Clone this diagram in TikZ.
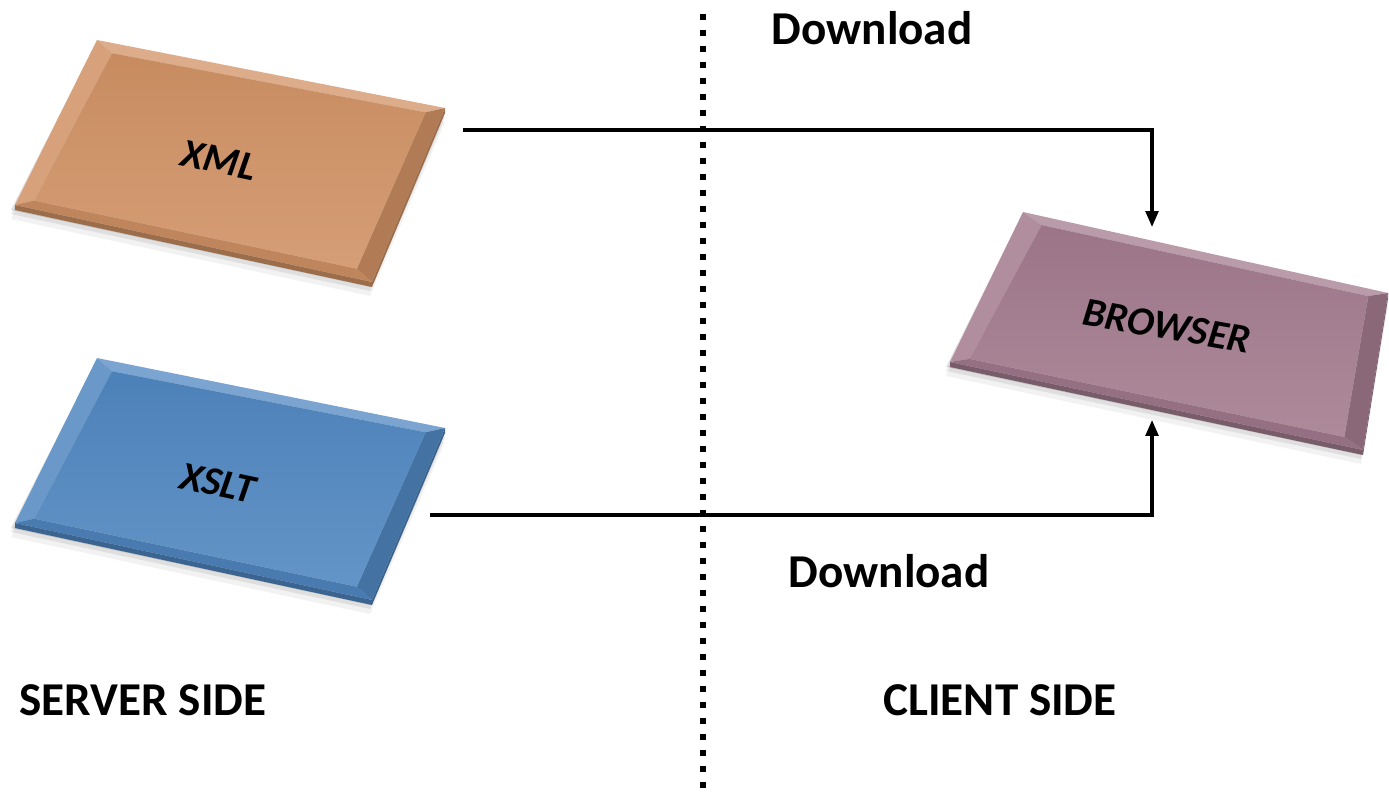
\documentclass[tikz,border=0pt]{standalone}
\usepackage{fontspec}
\setmainfont{Carlito}
\usepackage{xcolor}
\usetikzlibrary{arrows.meta,calc}
\definecolor{xmlface}{HTML}{D09164}
\definecolor{xsltface}{HTML}{4F86C0}
\definecolor{brwface}{HTML}{A27A8D}

% bevelled slab: #1 name, #2 colour, #3..#6 corners (top left, top right, bottom right, bottom left)
\newcommand{\slab}[6]{%
  \coordinate (#1-a) at #3; \coordinate (#1-b) at #4;
  \coordinate (#1-c) at #5; \coordinate (#1-d) at #6;
  \foreach \o/\op in {14/.05,9/.08,5/.12}
    \fill[black,opacity=\op] ($(#1-a)+(-2,\o)$) -- ($(#1-b)+(0,\o)$) -- ($(#1-c)+(-2,\o)$) -- ($(#1-d)+(-4,\o)$) -- cycle;
  \fill[#2!75!black] (#1-d) -- (#1-c) -- (#1-b) -- ($(#1-b)+(0,5)$) -- ($(#1-c)+(0,5)$) -- ($(#1-d)+(0,5)$) -- cycle;
  \coordinate (#1-ia) at ($(#1-a)!.055!(#1-c)$); \coordinate (#1-ic) at ($(#1-c)!.055!(#1-a)$);
  \coordinate (#1-ib) at ($(#1-b)!.045!(#1-d)$); \coordinate (#1-id) at ($(#1-d)!.045!(#1-b)$);
  \fill[#2!75!white] (#1-a) -- (#1-b) -- (#1-ib) -- (#1-ia) -- cycle;
  \fill[#2!85!white] (#1-a) -- (#1-ia) -- (#1-id) -- (#1-d) -- cycle;
  \fill[#2!85!black] (#1-b) -- (#1-c) -- (#1-ic) -- (#1-ib) -- cycle;
  \fill[#2!92!black] (#1-d) -- (#1-id) -- (#1-ic) -- (#1-c) -- cycle;
  \shade[top color=#2!96!black,bottom color=#2!88!white] (#1-ia) -- (#1-ib) -- (#1-ic) -- (#1-id) -- cycle;
}

\begin{document}
\begin{tikzpicture}[x=0.01cm,y=-0.01cm,
  >={Triangle[length=4.5pt,width=3.6pt]},
  head/.style={font=\fontsize{13.4}{16}\selectfont\bfseries,inner sep=0pt},
  lbl/.style={font=\fontsize{11.5}{14}\selectfont\bfseries\itshape,inner sep=0pt},
  fb/.style={black,line width=0.9pt},
  divider/.style={black,line width=1.8pt,dash pattern=on 1.8pt off 2.75pt}]
\useasboundingbox (0,0) rectangle (1389,795);
% slabs
\slab{xmlb}{xmlface}{(97,40)}{(445,108)}{(372,282)}{(15,205)}
\slab{xsltb}{xsltface}{(97,358)}{(445,428)}{(372,600)}{(15,523)}
\slab{brwb}{brwface}{(1023,212)}{(1388,293)}{(1363,450)}{(950,362)}
\node[lbl,rotate=-12] (xml) at (219,160) {XML};
\node[lbl,rotate=-12] (xslt) at (218,483) {XSLT};
\node[lbl,rotate=-10] (brw) at (1167,326) {BROWSER};
% divider
\coordinate (div-top) at (703,14);
\coordinate (div-bot) at (703,795);
\draw[divider] (div-top) -- (div-bot);
% downloads
\coordinate (xml-out) at (463,130);
\coordinate (brw-top) at (1152,227);
\coordinate (xslt-out) at (430,515);
\coordinate (brw-bot) at (1152,420);
\draw[fb,->] (xml-out) -| (brw-top);
\draw[fb,->] (xslt-out) -| (brw-bot);
\node[head] (dl-top) at (872,28) {Download};
\node[head] (dl-bot) at (889,571) {Download};
\node[head] (server) at (143,700) {SERVER SIDE};
\node[head] (client) at (1000,700) {CLIENT SIDE};
\end{tikzpicture}
\end{document}
